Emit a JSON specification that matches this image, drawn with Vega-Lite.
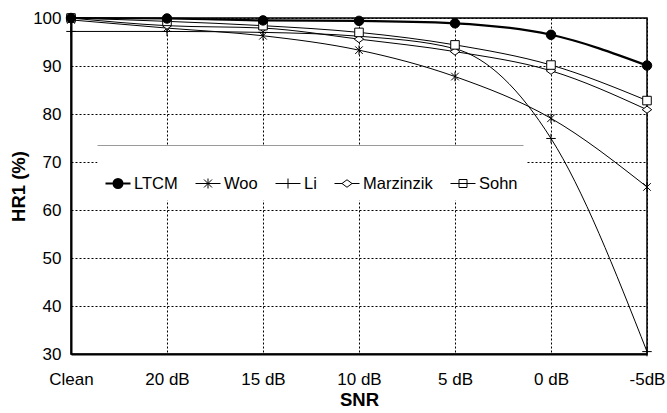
{
  "$schema": "https://vega.github.io/schema/vega-lite/v6.json",
  "width": 576,
  "height": 336,
  "autosize": {"type": "none"},
  "padding": {"left": 71, "top": 18, "right": 20, "bottom": 59},
  "background": "white",
  "config": {
    "font": "Liberation Sans",
    "view": {"stroke": "black", "strokeWidth": 1.5},
    "axis": {
      "labelFont": "Liberation Sans",
      "labelFontSize": 17,
      "labelColor": "black",
      "titleFont": "Liberation Sans",
      "titleFontSize": 18.5,
      "titleFontWeight": "bold",
      "titleColor": "black",
      "domainColor": "black",
      "domainWidth": 2,
      "ticks": false,
      "tickSize": 0,
      "gridColor": "black",
      "gridOpacity": 1,
      "gridWidth": 1,
      "gridDash": [2, 2]
    },
    "legend": {
      "orient": "none",
      "legendX": 26,
      "legendY": 127,
      "direction": "horizontal",
      "fillColor": "white",
      "padding": 8,
      "columnPadding": 15,
      "labelFont": "Liberation Sans",
      "labelFontSize": 16.5,
      "labelColor": "black",
      "labelOffset": 3,
      "symbolSize": 625,
      "symbolStrokeWidth": 1
    }
  },
  "data": {
    "values": [
      {"snr": "Clean", "series": "LTCM", "hr": 100},
      {"snr": "20 dB", "series": "LTCM", "hr": 99.9},
      {"snr": "15 dB", "series": "LTCM", "hr": 99.5},
      {"snr": "10 dB", "series": "LTCM", "hr": 99.4},
      {"snr": "5 dB", "series": "LTCM", "hr": 98.9},
      {"snr": "0 dB", "series": "LTCM", "hr": 96.5},
      {"snr": "-5dB", "series": "LTCM", "hr": 90.1},
      {"snr": "Clean", "series": "Woo", "hr": 99.6},
      {"snr": "20 dB", "series": "Woo", "hr": 97.9},
      {"snr": "15 dB", "series": "Woo", "hr": 96.3},
      {"snr": "10 dB", "series": "Woo", "hr": 93.3},
      {"snr": "5 dB", "series": "Woo", "hr": 87.8},
      {"snr": "0 dB", "series": "Woo", "hr": 79.1},
      {"snr": "-5dB", "series": "Woo", "hr": 64.8},
      {"snr": "Clean", "series": "Li", "hr": 97.2},
      {"snr": "20 dB", "series": "Li", "hr": 97.2},
      {"snr": "15 dB", "series": "Li", "hr": 97.0},
      {"snr": "10 dB", "series": "Li", "hr": 96.2},
      {"snr": "5 dB", "series": "Li", "hr": 93.6},
      {"snr": "0 dB", "series": "Li", "hr": 74.9},
      {"snr": "-5dB", "series": "Li", "hr": 30.5},
      {"snr": "Clean", "series": "Marzinzik", "hr": 100},
      {"snr": "20 dB", "series": "Marzinzik", "hr": 98.4},
      {"snr": "15 dB", "series": "Marzinzik", "hr": 97.9},
      {"snr": "10 dB", "series": "Marzinzik", "hr": 95.6},
      {"snr": "5 dB", "series": "Marzinzik", "hr": 93.0},
      {"snr": "0 dB", "series": "Marzinzik", "hr": 89.0},
      {"snr": "-5dB", "series": "Marzinzik", "hr": 80.9},
      {"snr": "Clean", "series": "Sohn", "hr": 100},
      {"snr": "20 dB", "series": "Sohn", "hr": 99.3},
      {"snr": "15 dB", "series": "Sohn", "hr": 98.4},
      {"snr": "10 dB", "series": "Sohn", "hr": 97.0},
      {"snr": "5 dB", "series": "Sohn", "hr": 94.4},
      {"snr": "0 dB", "series": "Sohn", "hr": 90.2},
      {"snr": "-5dB", "series": "Sohn", "hr": 82.8}
    ]
  },
  "encoding": {
    "x": {
      "field": "snr",
      "type": "ordinal",
      "sort": ["Clean", "20 dB", "15 dB", "10 dB", "5 dB", "0 dB", "-5dB"],
      "scale": {"type": "point", "padding": 0},
      "axis": {"title": "SNR", "labelAngle": 0, "labelPadding": 17, "titlePadding": 3, "grid": true}
    },
    "y": {
      "field": "hr",
      "type": "quantitative",
      "scale": {"domain": [30, 100], "nice": false, "zero": false},
      "axis": {"title": "HR1 (%)", "values": [30, 40, 50, 60, 70, 80, 90, 100], "labelPadding": 10, "titlePadding": 4, "grid": true}
    }
  },
  "layer": [
    {
      "mark": {"type": "line", "interpolate": "monotone"},
      "encoding": {
        "color": {
          "field": "series",
          "type": "nominal",
          "scale": {
            "domain": ["LTCM", "Woo", "Li", "Marzinzik", "Sohn"],
            "range": ["black", "black", "black", "black", "black"]
          },
          "legend": {
            "title": null,
            "encode": {
              "entries": {
                "update": {
                  "height": {"value": 61}
                }
              },
              "symbols": {
                "update": {
                  "shape": {"signal": "(datum.value === 'LTCM' ? 'M-1,0H1M-0.36,0A0.36,0.36 0 1,0 0.36,0A0.36,0.36 0 1,0 -0.36,0Z' : datum.value === 'Woo' ? 'M-1,0H1M-0.32,-0.32L0.32,0.32M-0.32,0.32L0.32,-0.32M0,-0.4V0.4' : datum.value === 'Li' ? 'M-1,0H1M0,-0.4V0.4' : datum.value === 'Marzinzik' ? 'M-1,0H-0.4M0.4,0H1M0,-0.3L0.4,0L0,0.3L-0.4,0Z' : 'M-1,0H1M-0.32,-0.32H0.32V0.32H-0.32Z')"},
                  "fill": {"signal": "(datum.value === 'LTCM' ? 'black' : 'white')"},
                  "stroke": {"value": "black"},
                  "strokeWidth": {"signal": "(datum.value === 'LTCM' ? 2 : 1)"},
                  "opacity": {"value": 1},
                  "y": {"value": 30.5}
                }
              },
              "labels": {
                "update": {
                  "y": {"value": 30.5}
                }
              },
              "legend": {
                "update": {
                  "stroke": {"value": "#9a9a9a"},
                  "strokeWidth": {"value": 1},
                  "strokeDash": {"value": [426, 3000]}
                }
              }
            }
          }
        },
        "strokeWidth": {
          "condition": {"test": "datum.series === 'LTCM'", "value": 2.2},
          "value": 1
        }
      }
    },
    {
      "transform": [{"filter": "datum.series === 'Woo'"}],
      "mark": {"type": "point", "shape": "M-0.8,-0.8L0.8,0.8M-0.8,0.8L0.8,-0.8M0,-1V1", "size": 90, "filled": false, "stroke": "black", "strokeWidth": 1, "opacity": 1}
    },
    {
      "transform": [{"filter": "datum.series === 'Li'"}],
      "mark": {"type": "point", "shape": "M0,-1V1M-1,0H1", "size": 90, "filled": false, "stroke": "black", "strokeWidth": 1, "opacity": 1}
    },
    {
      "transform": [{"filter": "datum.series === 'Marzinzik'"}],
      "mark": {"type": "point", "shape": "M0,-0.75L1,0L0,0.75L-1,0Z", "size": 90, "filled": true, "fill": "white", "stroke": "black", "strokeWidth": 1, "opacity": 1}
    },
    {
      "transform": [{"filter": "datum.series === 'Sohn'"}],
      "mark": {"type": "point", "shape": "M-0.9,-0.9H0.9V0.9H-0.9Z", "size": 90, "filled": true, "fill": "white", "stroke": "black", "strokeWidth": 1, "opacity": 1}
    },
    {
      "transform": [{"filter": "datum.series === 'LTCM'"}],
      "mark": {"type": "point", "shape": "circle", "size": 90, "filled": true, "fill": "black", "stroke": "black", "strokeWidth": 1, "opacity": 1}
    }
  ]
}
